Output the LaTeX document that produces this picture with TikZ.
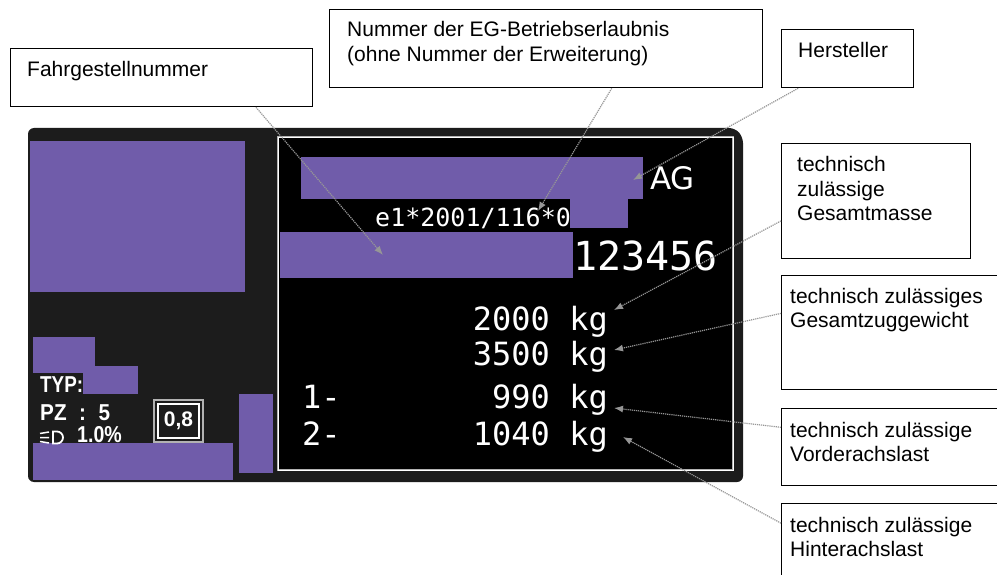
\documentclass[tikz,border=0pt]{standalone}
\usepackage{fontspec}
\setmainfont{Liberation Sans}
\newfontfamily\platemono{DejaVu Sans Mono}
\newfontfamily\platesans{DejaVu Sans}
\usetikzlibrary{arrows.meta,calc}
\definecolor{plum}{RGB}{112,92,170}
\definecolor{platebg}{RGB}{28,28,28}
\definecolor{leadercol}{RGB}{150,150,150}
\begin{document}
\begin{tikzpicture}[x=1pt,y=-1pt,
  labelbox/.style={draw=black, line width=1.3pt, fill=white, rectangle, inner sep=0pt, anchor=north west},
  labeltext/.style={anchor=base west, inner sep=0pt, align=left, font=\fontsize{21}{24.5}\selectfont},
  block/.style={fill=plum},
  platetxt/.style={anchor=base west, inner sep=0pt, text=white},
  smalltxt/.style={anchor=base west, inner sep=0pt, text=white, font=\fontsize{23}{23}\selectfont\bfseries},
  leader/.style={draw=leadercol, line width=1.2pt, dash pattern=on 1.2pt off 0.9pt,
     -{Latex[length=9pt,width=7pt,fill=leadercol]}}
]
\useasboundingbox (0,0) rectangle (997,575);
\clip (0,0) rectangle (997,575);
\fill[white] (0,0) rectangle (997,575);

% plate
\fill[platebg, rounded corners=6pt] (28,128) -- (735,128) -- (743,137) -- (743,482) -- (28,482) -- cycle;
\fill[black] (278,137) rectangle (733,470);
\draw[gray!60, line width=2.6pt] (278,137) rectangle (733,470);
\draw[white, line width=0.8pt] (278,137) rectangle (733,470);

% purple blocks
\fill[block] (30,141) rectangle (245,292);
\fill[block] (33,337) rectangle (95,373);
\fill[block] (83,366) rectangle (138,394);
\fill[block] (33,443) rectangle (233,480);
\fill[block] (239,394) rectangle (273,473);
\fill[block] (301,157) rectangle (643,199);
\fill[block] (570,199) rectangle (628,228);
\fill[block] (280,232) rectangle (573,278);

% plate texts
\node[platetxt, font=\fontsize{25}{25}\selectfont\platemono] (ebenr) at (375,227) {e1*2001/116*0};
\node[platetxt, font=\fontsize{31}{31}\selectfont\platesans] (ag) at (650,190) {AG};
\node[platetxt, font=\fontsize{40}{40}\selectfont\platemono] (fgnr) at (573,270) {123456};
\node[platetxt, anchor=base east, font=\fontsize{32}{32}\selectfont\platemono] (w1) at (608,330) {2000 kg};
\node[platetxt, anchor=base east, font=\fontsize{32}{32}\selectfont\platemono] (w2) at (608,365) {3500 kg};
\node[platetxt, anchor=base east, font=\fontsize{32}{32}\selectfont\platemono] (w3) at (608,408) {990 kg};
\node[platetxt, anchor=base east, font=\fontsize{32}{32}\selectfont\platemono] (w4) at (608,445) {1040 kg};
\node[platetxt, font=\fontsize{32}{32}\selectfont\platemono] (ax1) at (302,408) {1-};
\node[platetxt, font=\fontsize{32}{32}\selectfont\platemono] (ax2) at (302,445) {2-};

% small left texts
\node[smalltxt] (typ) at (40,392) {\scalebox{0.82}[1]{TYP:}};
\node[smalltxt] (pz) at (40,420) {\scalebox{0.9}[1]{PZ\hspace{14pt}:\hspace{14pt}5}};
\node[smalltxt] (pct) at (77,442) {\scalebox{0.85}[1]{1.0\%}};
% headlight symbol
\draw[white, line width=1.8pt] (53,431.5) -- (57,431.5) arc[start angle=-90, end angle=90, radius=6] -- (53,443.5) -- cycle;
\draw[white, line width=1.5pt] (40,433.5) -- (49,432) (40,437.5) -- (49,437.5) (40,441.5) -- (49,443);
% 0,8 box
\draw[gray!60, line width=2.5pt] (154,400) rectangle (203,442);
\draw[white, line width=1.2pt] (158,404) rectangle (199,438);
\node[anchor=center, inner sep=0pt, text=white, font=\fontsize{21}{21}\selectfont\bfseries] (cls) at (178.5,421) {0,8};

% label boxes
\node[labelbox, minimum width=302pt, minimum height=58pt] (fahr) at (10,48) {};
\node[labelbox, minimum width=433pt, minimum height=78pt] (ebe) at (329,9) {};
\node[labelbox, minimum width=132pt, minimum height=58pt] (herst) at (781,29) {};
\node[labelbox, minimum width=189pt, minimum height=115pt] (gm) at (781,143) {};
\node[labelbox, minimum width=240pt, minimum height=114pt] (gzg) at (781,275) {};
\node[labelbox, minimum width=240pt, minimum height=77pt] (val) at (781,408) {};
\node[labelbox, minimum width=240pt, minimum height=95pt] (hal) at (781,503) {};

% label texts (anchor = baseline of last line)
\node[labeltext] (t1) at (27,77) {Fahrgestellnummer};
\node[labeltext] (t2) at (347,61.5) {Nummer der EG-Betriebserlaubnis\\(ohne Nummer der Erweiterung)};
\node[labeltext] (t3) at (798,58) {Hersteller};
\node[labeltext] (t4) at (797,221) {technisch\\zulässige\\Gesamtmasse};
\node[labeltext] (t5) at (790,327.5) {technisch zulässiges\\Gesamtzuggewicht};
\node[labeltext] (t6) at (790,461.5) {technisch zulässige\\Vorderachslast};
\node[labeltext] (t7) at (790,556.5) {technisch zulässige\\Hinterachslast};

% arrow tips
\coordinate (pfahr) at (383,255);
\coordinate (pebe) at (538,211);
\coordinate (pherst) at (633,180);
\coordinate (pgm) at (614,310);
\coordinate (pgzg) at (614,350);
\coordinate (pval) at (614,408);
\coordinate (phal) at (623,437);

\draw[leader] ($(fahr.south west)!0.811!(fahr.south east)$) -- (pfahr);
\draw[leader] ($(ebe.south west)!0.651!(ebe.south east)$) -- (pebe);
\draw[leader] ($(herst.south west)!0.129!(herst.south east)$) -- (pherst);
\draw[leader] ($(gm.north west)!0.67!(gm.south west)$) -- (pgm);
\draw[leader] ($(gzg.north west)!0.333!(gzg.south west)$) -- (pgzg);
\draw[leader] ($(val.north west)!0.247!(val.south west)$) -- (pval);
\draw[leader] ($(hal.north west)!0.21!(hal.south west)$) -- (phal);
\end{tikzpicture}
\end{document}
